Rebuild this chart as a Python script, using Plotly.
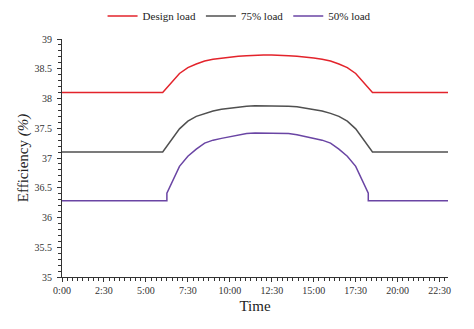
import plotly.graph_objects as go

# time in hours
time_h = [0, 1, 2, 3, 4, 5, 6, 7, 7.5, 8, 8.5, 9, 9.5, 10, 10.5, 11, 11.5, 12, 12.5,
          13, 13.5, 14, 14.5, 15, 15.5, 16, 16.5, 17, 17.5, 18.5, 19, 20, 21, 22, 23]
design_load = [38.1, 38.1, 38.1, 38.1, 38.1, 38.1, 38.1, 38.42, 38.52, 38.58, 38.63, 38.66,
               38.68, 38.70, 38.71, 38.72, 38.73, 38.73, 38.73, 38.73, 38.72, 38.71, 38.70,
               38.68, 38.66, 38.63, 38.58, 38.52, 38.42, 38.1, 38.1, 38.1, 38.1, 38.1, 38.1]
load_75 = [37.1, 37.1, 37.1, 37.1, 37.1, 37.1, 37.1, 37.49, 37.62, 37.70, 37.75, 37.79,
           37.82, 37.84, 37.86, 37.87, 37.88, 37.88, 37.88, 37.88, 37.87, 37.86, 37.84,
           37.82, 37.79, 37.75, 37.70, 37.62, 37.49, 37.1, 37.1, 37.1, 37.1, 37.1, 37.1]

time_50 = [0, 1, 2, 3, 4, 5, 6, 6.25, 6.25, 7, 7.5, 8, 8.5, 9, 9.5, 10, 10.5, 11, 11.5, 12,
           12.5, 13, 13.5, 14, 14.5, 15, 15.5, 16, 16.5, 17, 17.5, 18.25, 18.25, 19, 20, 21, 22, 23]
load_50 = [36.28, 36.28, 36.28, 36.28, 36.28, 36.28, 36.28, 36.28, 36.41, 36.86, 37.03, 37.15,
           37.25, 37.30, 37.33, 37.36, 37.39, 37.41, 37.42, 37.42, 37.42, 37.42, 37.41, 37.39,
           37.36, 37.33, 37.30, 37.25, 37.15, 37.03, 36.86, 36.41, 36.28, 36.28, 36.28, 36.28,
           36.28, 36.28]

x_tickvals = [0, 2.5, 5, 7.5, 10, 12.5, 15, 17.5, 20, 22.5]
x_ticktext = ["0:00", "2:30", "5:00", "7:30", "10:00", "12:30", "15:00", "17:30", "20:00", "22:30"]
y_tickvals = [35, 35.5, 36, 36.5, 37, 37.5, 38, 38.5, 39]
y_ticktext = ["35", "35.5", "36", "36.5", "37", "37.5", "38", "38.5", "39"]

FONT = "Liberation Serif, Times New Roman, serif"
AX = "#333333"

fig = go.Figure()
fig.add_trace(go.Scatter(x=time_h, y=design_load, mode="lines", name="Design load",
                         line=dict(color="#e3232b", width=1.5)))
fig.add_trace(go.Scatter(x=time_h, y=load_75, mode="lines", name="75% load",
                         line=dict(color="#505050", width=1.5)))
fig.add_trace(go.Scatter(x=time_50, y=load_50, mode="lines", name="50% load",
                         line=dict(color="#6a45a4", width=1.5)))

common_x = dict(range=[0, 23], tickmode="array", tickvals=x_tickvals,
                showgrid=False, zeroline=False, tickcolor=AX, tickwidth=1,
                minor=dict(tickmode="linear", tick0=0, dtick=2.5 / 8, ticklen=3,
                           tickcolor=AX, tickwidth=1))
common_y = dict(range=[35, 39], tickmode="array", tickvals=y_tickvals,
                showgrid=False, zeroline=False, tickcolor=AX, tickwidth=1,
                minor=dict(tickmode="linear", tick0=35, dtick=0.1, ticklen=3,
                           tickcolor=AX, tickwidth=1))

fig.update_layout(
    width=474, height=329,
    margin=dict(l=62, r=26, t=39, b=52, autoexpand=False),
    paper_bgcolor="white", plot_bgcolor="white",
    font=dict(family=FONT, size=10, color="#222222"),
    showlegend=True,
    legend=dict(orientation="h", x=0.46, xanchor="center", y=0.951, yanchor="middle",
                yref="container", font=dict(family=FONT, size=11, color="#222222"),
                itemwidth=30, tracegroupgap=0, bgcolor="rgba(0,0,0,0)"),
    xaxis=dict(**common_x, ticktext=x_ticktext, ticks="outside", ticklen=4,
               showline=True, linecolor=AX, linewidth=1,
               title=dict(text="Time", font=dict(family=FONT, size=15, color="#222222"),
                          standoff=5),
               tickfont=dict(family=FONT, size=10, color="#333333")),
    yaxis=dict(**common_y, ticktext=y_ticktext, ticks="outside", ticklen=4,
               showline=True, linecolor=AX, linewidth=1, ticklabelstandoff=3,
               title=dict(text="Efficiency <i>(%)</i>",
                          font=dict(family=FONT, size=15, color="#222222"), standoff=2),
               tickfont=dict(family=FONT, size=10, color="#333333")),
    xaxis2=dict(**common_x, overlaying="x", anchor="y", side="bottom", ticks="inside",
                ticklen=4, showticklabels=False, showline=False),
    yaxis2=dict(**common_y, overlaying="y", anchor="x", side="left", ticks="inside",
                ticklen=4, showticklabels=False, showline=False),
)
fig.update_xaxes(selector=dict(overlaying="x"), minor_ticks="inside")
fig.update_yaxes(selector=dict(overlaying="y"), minor_ticks="inside")
fig.update_xaxes(selector=dict(ticks="outside"), minor_ticks="outside")
fig.update_yaxes(selector=dict(ticks="outside"), minor_ticks="outside")

fig.write_html("out.html")
